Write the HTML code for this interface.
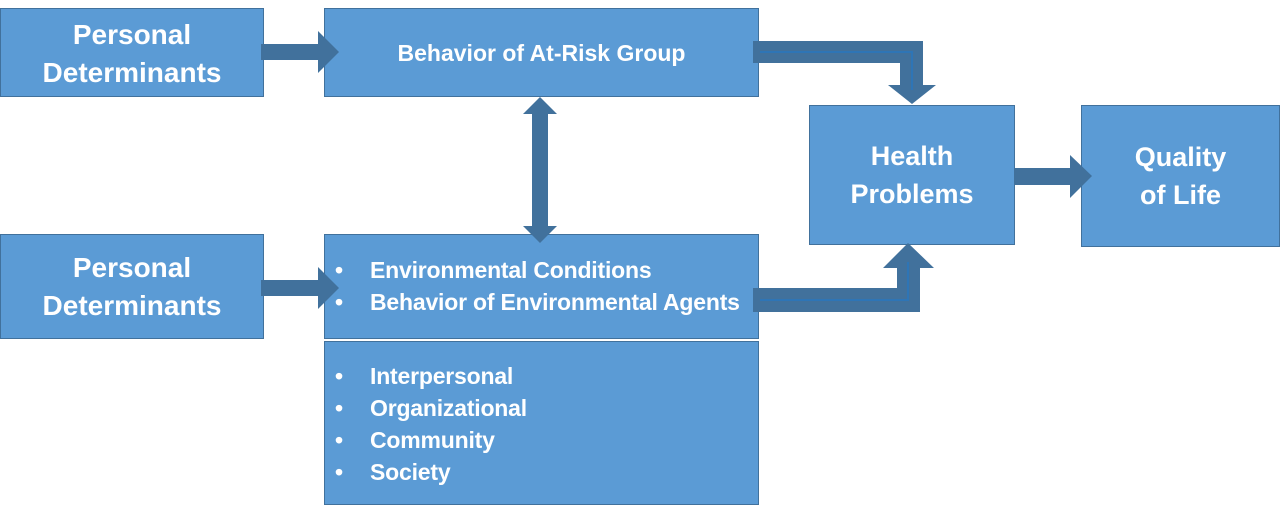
<!DOCTYPE html><html><head><style>
body{margin:0;width:1280px;height:506px;background:#fff;position:relative;font-family:"Liberation Sans",sans-serif;overflow:hidden}
.b{position:absolute;background:#5b9bd5;border:1px solid #41719c;box-sizing:border-box;color:#fff;font-weight:bold}
.c{display:flex;align-items:center;justify-content:center;text-align:center;font-size:27px;line-height:38px}
ul{margin:0;padding:0;list-style:none}
li{position:relative;padding-left:45px;font-size:23px;line-height:32px;letter-spacing:-0.2px}
li:before{content:"•";position:absolute;left:10px}
svg{position:absolute;left:0;top:0}
</style></head><body>
<div class="b c" style="left:0;top:8px;width:264px;height:89px;font-size:28px;padding-top:2px">Personal<br>Determinants</div>
<div class="b c" style="left:324px;top:8px;width:435px;height:89px;font-size:23px;padding-bottom:0px">Behavior of At-Risk Group</div>
<div class="b c" style="left:809px;top:105px;width:206px;height:140px">Health<br>Problems</div>
<div class="b c" style="left:1081px;top:105px;width:199px;height:142px">Quality<br>of Life</div>
<div class="b c" style="left:0;top:234px;width:264px;height:105px;font-size:28px">Personal<br>Determinants</div>
<div class="b" style="left:324px;top:234px;width:435px;height:105px;padding-top:19px"><ul><li>Environmental Conditions</li><li>Behavior of Environmental Agents</li></ul></div>
<div class="b" style="left:324px;top:341px;width:435px;height:164px;padding-top:18px"><ul><li>Interpersonal</li><li>Organizational</li><li>Community</li><li>Society</li></ul></div>
<svg width="1280" height="506">
<g fill="#41719c">
<polygon points="261,44 318,44 318,31 339,52 318,73 318,60 261,60"/>
<polygon points="261,280 318,280 318,267 339,288 318,309 318,296 261,296"/>
<polygon points="540,97 557,114 548,114 548,226 557,226 540,243 523,226 532,226 532,114 523,114"/>
<polygon points="753,41 923,41 923,85 936,85 912,104 888,85 900,85 900,63 753,63"/>
<polygon points="753,288 897,288 897,268 883,268 908,243 934,268 920,268 920,312 753,312"/>
<polygon points="1015,168 1070,168 1070,155 1092,176 1070,198 1070,185 1015,185"/>
</g>
<g stroke="#2e75b6" stroke-width="2" fill="none">
<polyline points="760,52 912,52 912,90"/>
<polyline points="760,300 908,300 908,262"/>
</g>
</svg>
</body></html>
